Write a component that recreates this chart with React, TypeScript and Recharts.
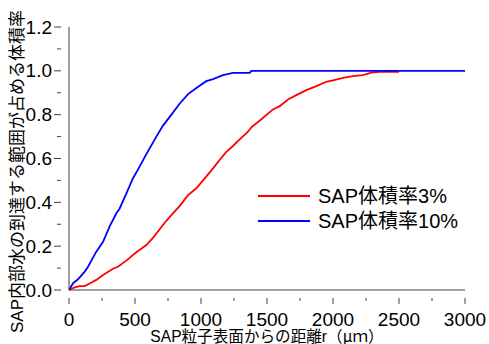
import React from 'react';
import { LineChart, Line, XAxis, YAxis } from 'recharts';

const xTicks = [0, 250, 500, 750, 1000, 1250, 1500, 1750, 2000, 2250, 2500, 2750, 3000];
const yTicks = [0, 0.1, 0.2, 0.3, 0.4, 0.5, 0.6, 0.7, 0.8, 0.9, 1.0, 1.1, 1.2];

const seriesNames = ['SAP体積率3%', 'SAP体積率10%'];
const seriesColors = ['#ff0000', '#0000ff'];

const red_r = [0, 43, 81, 119, 157, 207, 258, 333, 371, 434, 510, 586, 636, 687, 725, 775, 838, 902, 965, 1015, 1091, 1141, 1192, 1242, 1293, 1356, 1381, 1444, 1545, 1596, 1659, 1722, 1798, 1874, 1949, 2000, 2076, 2152, 2227, 2290, 2354, 2500];
const red_v = [0, 0.012, 0.018, 0.018, 0.03, 0.046, 0.068, 0.097, 0.106, 0.134, 0.172, 0.205, 0.238, 0.277, 0.307, 0.342, 0.383, 0.433, 0.464, 0.5, 0.555, 0.593, 0.63, 0.657, 0.687, 0.722, 0.742, 0.772, 0.824, 0.839, 0.869, 0.889, 0.912, 0.93, 0.95, 0.957, 0.968, 0.976, 0.98, 0.992, 0.995, 0.995];

const blue_r = [0, 30, 68, 119, 144, 207, 258, 308, 359, 384, 434, 485, 520, 586, 662, 712, 763, 838, 902, 965, 1040, 1091, 1167, 1242, 1369, 1381, 3000];
const blue_v = [0, 0.03, 0.049, 0.084, 0.106, 0.175, 0.22, 0.29, 0.35, 0.372, 0.44, 0.51, 0.547, 0.62, 0.7, 0.75, 0.79, 0.85, 0.894, 0.922, 0.953, 0.962, 0.98, 0.991, 0.991, 1.0, 1.0];

const redData = red_r.map((r, i) => ({ r, v: red_v[i] }));
const blueData = blue_r.map((r, i) => ({ r, v: blue_v[i] }));

const FONT = '"Liberation Sans", Arial, "Noto Sans CJK JP", sans-serif';
const AXIS = '#404040';

const XTick = (props: any) => {
  const { x, y, payload } = props;
  const major = payload.value % 500 === 0;
  return (
    <g>
      <line x1={x} x2={x} y1={y} y2={y + (major ? 6 : 3)} stroke={AXIS} strokeWidth={1} />
      {major && (
        <text x={x} y={y + 28} textAnchor="middle" fontSize={19} fontFamily={FONT} fill="#000">
          {payload.value}
        </text>
      )}
    </g>
  );
};

const YTick = (props: any) => {
  const { x, y, payload } = props;
  const major = Math.round(payload.value * 10) % 2 === 0;
  return (
    <g>
      <line x1={x - (major ? 7 : 4)} x2={x} y1={y} y2={y} stroke={AXIS} strokeWidth={1} />
      {major && (
        <text x={x - 9} y={y} dy="0.35em" textAnchor="end" fontSize={19} fontFamily={FONT} fill="#000">
          {payload.value.toFixed(1)}
        </text>
      )}
    </g>
  );
};

const XLabel = (props: any) => {
  const vb = props.viewBox;
  return (
    <text x={vb.x + vb.width / 2} y={vb.y + 51.5} textAnchor="middle" fontSize={15.6} fontFamily={FONT} fill="#000">
      SAP粒子表面からの距離r（<tspan fontFamily='"Noto Sans CJK JP", sans-serif'>μ</tspan>ｍ）
    </text>
  );
};

const YLabel = (props: any) => {
  const vb = props.viewBox;
  const cx = vb.x + 23;
  const cy = vb.y + vb.height / 2 + 13;
  return (
    <text x={cx} y={cy} textAnchor="middle" fontSize={17} fontFamily={FONT} fill="#000" transform={`rotate(-90, ${cx}, ${cy})`}>
      SAP内部水の到達する範囲が占める体積率
    </text>
  );
};

const LegendBox = () => (
  <div style={{ position: 'absolute', left: 258, top: 183.5, fontFamily: FONT, fontSize: 20, color: '#000' }}>
    {seriesNames.map((n, i) => (
      <div key={n} style={{ display: 'flex', alignItems: 'center', height: 25 }}>
        <svg width={52} height={4} style={{ marginRight: 8 }}>
          <line x1={0} x2={52} y1={2} y2={2} stroke={seriesColors[i]} strokeWidth={2} />
        </svg>
        <span style={{ lineHeight: '25px', whiteSpace: 'nowrap' }}>{n}</span>
      </div>
    ))}
  </div>
);

export default function App() {
  return (
    <div style={{ position: 'absolute', left: 0, top: 0, width: 489, height: 344, background: '#fff' }}>
      <LineChart width={489} height={344} margin={{ top: 27, right: 24, bottom: 0, left: 0 }}>
        <XAxis
          dataKey="r"
          type="number"
          domain={[0, 3000]}
          ticks={xTicks}
          interval={0}
          tickLine={false}
          tick={<XTick />}
          height={54}
          stroke={AXIS}
          label={<XLabel />}
        />
        <YAxis
          dataKey="v"
          type="number"
          domain={[0, 1.2]}
          ticks={yTicks}
          interval={0}
          tickLine={false}
          tick={<YTick />}
          width={69}
          stroke={AXIS}
          label={<YLabel />}
        />
        <Line data={redData} dataKey="v" name={seriesNames[0]} stroke={seriesColors[0]} strokeWidth={1.8} dot={false} isAnimationActive={false} type="linear" />
        <Line data={blueData} dataKey="v" name={seriesNames[1]} stroke={seriesColors[1]} strokeWidth={1.8} dot={false} isAnimationActive={false} type="linear" />
      </LineChart>
      <LegendBox />
    </div>
  );
}
